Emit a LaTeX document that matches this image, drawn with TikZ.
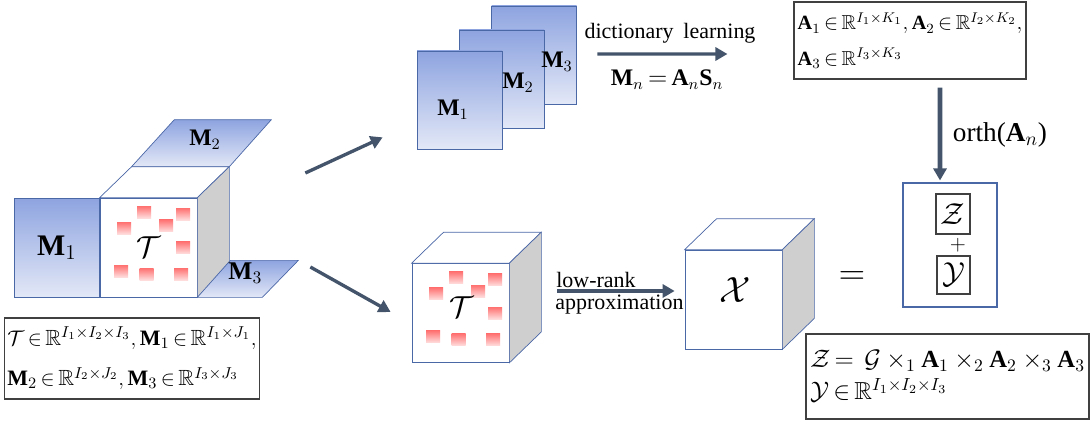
\documentclass[tikz,border=0pt]{standalone}
\usepackage{amsmath,amssymb}
\usepackage{fontspec}
\setmainfont{Liberation Serif}
\usetikzlibrary{arrows.meta,positioning,calc}
\definecolor{Slate}{HTML}{44546A}
\definecolor{EdgeBlue}{HTML}{4A67A6}
\definecolor{MatTop}{HTML}{8EA4E0}
\definecolor{MatBot}{HTML}{E3E8F7}
\definecolor{SqTop}{HTML}{FF7070}
\definecolor{SqBot}{HTML}{FFDCDC}
\definecolor{SideGray}{HTML}{CFCFCF}
\definecolor{BoxLine}{HTML}{404040}
\newcommand{\setsz}[1]{\fontsize{#1pt}{#1pt}\selectfont}
\thickmuskip=3mu plus 2mu

\begin{document}
\begin{tikzpicture}[
  face/.style={draw=EdgeBlue,fill=white,minimum width=1.94cm,minimum height=1.98cm,inner sep=0pt},
  topface/.style={draw=EdgeBlue,fill=white},
  side/.style={draw=EdgeBlue,fill=SideGray},
  mat/.style={draw=EdgeBlue,top color=MatTop,bottom color=MatBot},
  page/.style={mat,minimum width=1.7cm,minimum height=1.96cm,inner sep=0pt},
  sq/.style={top color=SqTop,bottom color=SqBot,minimum width=0.28cm,minimum height=0.24cm,inner sep=0pt},
  frame/.style={draw=BoxLine,line width=0.6pt,align=left,inner sep=0.06cm},
  arrow/.style={-{Triangle[length=2.4mm,width=2.6mm]},line width=1.9pt,draw=Slate},
  lbl/.style={inner sep=0pt}
]
\useasboundingbox (0,0) rectangle (21.82,8.48);

% input tensor with its three side matrices
\node[face] (tcube) at (2.97,3.53) {};
\node[page,minimum height=1.98cm,anchor=east] (m1) at (tcube.west) {};
\path[mat] ($(tcube.north west)+(0.64,0.62)$) -- ($(tcube.north east)+(0.64,0.62)$)
  -- ++(0.84,0.94) -- ++(-1.94,0) -- cycle;

% lower copy of the tensor and the recovered tensor
\node[face] (tcb) at (9.21,2.22) {};
\node[face] (xc) at (14.67,2.49) {};

\foreach \c in {tcube,tcb,xc}{
  \draw[topface] (\c.north west) -- ++(0.64,0.62) -- ($(\c.north east)+(0.64,0.62)$) -- (\c.north east) -- cycle;
  \draw[side] (\c.north east) -- ++(0.64,0.62) -- ($(\c.south east)+(0.64,0.62)$) -- (\c.south east) -- cycle;
}
\path[mat] (tcube.south east) -- ++(1.3,0) -- ++(0.72,0.74) -- ++(-1.36,0) -- cycle;

% missing entries
\foreach \c in {tcube,tcb}{
  \foreach \dx/\dy [count=\i] in {-0.09/0.71,0.69/0.67,0.35/0.44,-0.49/0.39,0.69/0.0,-0.55/-0.47,-0.04/-0.53,0.65/-0.53}
    \node[sq] (\c-s\i) at ($(\c)+(\dx,\dy)$) {};
}

\node[lbl,font=\setsz{19}] (lt) at (tcube) {$\mathcal{T}$};
\node[lbl,font=\setsz{19}] (ltb) at ($(tcb)+(0.03,0.12)$) {$\mathcal{T}$};
\node[lbl,font=\setsz{21}] (lx) at ($(xc)+(0.03,0.18)$) {$\mathcal{X}$};
\node[lbl,font=\setsz{17}] (lm1) at (m1) {$\mathbf{M}_1$};
\node[lbl,font=\setsz{13.5}] (lm2) at ($(tcube.north)+(1.13,1.16)$) {$\mathbf{M}_2$};
\node[lbl,font=\setsz{14.5}] (lm3) at ($(tcube.south east)+(0.96,0.48)$) {$\mathbf{M}_3$};

\node[frame,minimum width=5.04cm,minimum height=1.62cm,font=\setsz{12.5}] (tdef) at (2.64,1.31)
  {$\mathcal{T}\in\mathbb{R}^{I_1\times I_2\times I_3},\mathbf{M}_1\in\mathbb{R}^{I_1\times J_1},$\\[9pt]
   $\mathbf{M}_2\in\mathbb{R}^{I_2\times J_2},\mathbf{M}_3\in\mathbb{R}^{I_3\times J_3}$};

% stacked side matrices
\node[page] (pg3) at (10.68,7.38) {};
\node[page] (pg2) at (10.03,6.90) {};
\node[page] (pg1) at (9.19,6.48) {};
\node[lbl,font=\setsz{13.5}] (lp1) at (9.06,6.28) {$\mathbf{M}_1$};
\node[lbl,font=\setsz{13.5}] (lp2) at (10.36,6.82) {$\mathbf{M}_2$};
\node[lbl,font=\setsz{13.5}] (lp3) at (11.14,7.24) {$\mathbf{M}_3$};

\node[frame,minimum width=4.64cm,minimum height=1.54cm,font=\setsz{11.5}] (abox) at (18.2,7.67)
  {$\mathbf{A}_1\in\mathbb{R}^{I_1\times K_1},\mathbf{A}_2\in\mathbb{R}^{I_2\times K_2},$\\[7pt]
   $\mathbf{A}_3\in\mathbb{R}^{I_3\times K_3}$};

\node[lbl,font=\setsz{12.5}] (dl) at (13.4,7.82) {dictionary\hspace{0.45em}learning};
\node[lbl,font=\setsz{13.5}] (mn) at (13.34,6.88) {$\mathbf{M}_n=\mathbf{A}_n\mathbf{S}_n$};

% decomposition of the recovered tensor
\node[draw=EdgeBlue,line width=0.6pt,minimum width=1.88cm,minimum height=2.48cm] (zy) at (19.0,3.58) {};
\node[draw=BoxLine,line width=0.6pt,minimum width=0.68cm,minimum height=0.8cm,inner sep=0pt,font=\setsz{17}] (zb) at (19.06,4.20) {$\mathcal{Z}$};
\node[draw=BoxLine,line width=0.6pt,minimum width=0.66cm,minimum height=0.76cm,inner sep=0pt,font=\setsz{17}] (yb) at (19.07,2.98) {$\mathcal{Y}$};
\node[lbl,font=\setsz{12}] (pl) at (19.16,3.57) {$+$};
\node[lbl,font=\setsz{20}] (eq) at (17.04,2.92) {$=$};

\node[frame,minimum width=5.66cm,minimum height=1.7cm,font=\setsz{14}] (zdef) at (18.95,0.95)
  {$\mathcal{Z}=\ \mathcal{G}\times_1\mathbf{A}_1\times_2\mathbf{A}_2\times_3\mathbf{A}_3$\\[3pt]
   $\mathcal{Y}\in\mathbb{R}^{I_1\times I_2\times I_3}$};

\node[lbl,font=\setsz{15.5}] (orth) at (20.0,5.78) {orth($\mathbf{A}_n$)};

% connectors
\draw[arrow] ($(tcube.east)+(2.16,1.49)$) -- ($(pg1.south west)+(-0.68,0.24)$);
\draw[arrow] ($(tcube.east)+(2.26,-0.39)$) -- ($(tcb.west)+(-0.42,0.02)$);
\draw[arrow] ($(pg3.east)+(0.41,0.02)$) -- ($(abox.west)+(-1.32,-0.27)$);
\draw[arrow,line width=2.6pt] ($(abox.south)+(0.6,-0.16)$) -- ($(zy.north)+(-0.2,0.04)$);
\draw[arrow] ($(tcb.east)+(0.96,0.44)$) -- ($(xc.west)+(-0.2,0.17)$);
\node[lbl,font=\setsz{12.5},anchor=west] (lr1) at (11.12,2.88) {low-rank};
\node[lbl,font=\setsz{12.5},anchor=west] (lr2) at (11.1,2.38) {approximation};
\end{tikzpicture}
\end{document}
